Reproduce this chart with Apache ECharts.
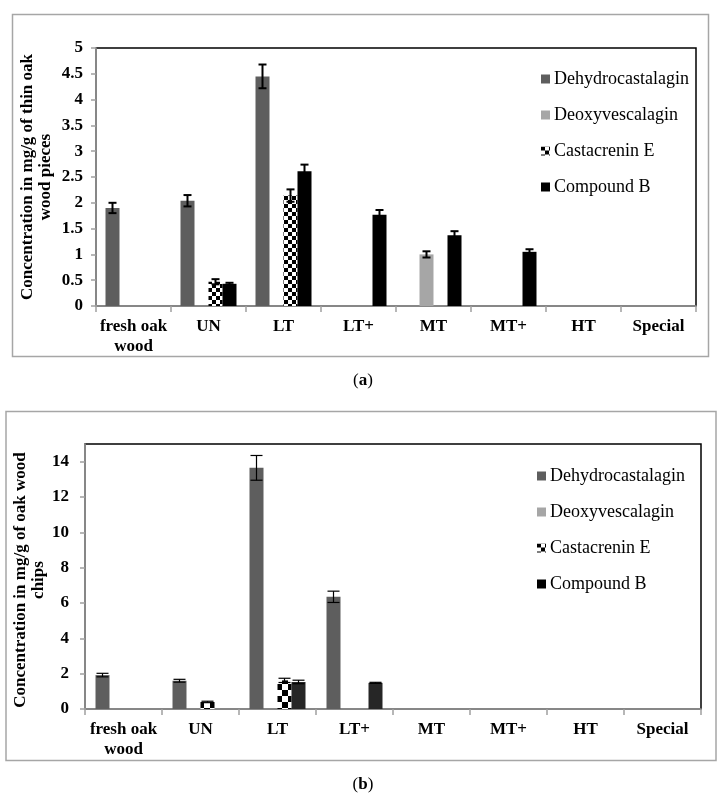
<!DOCTYPE html>
<html>
<head>
<meta charset="utf-8">
<script src="https://cdn.jsdelivr.net/npm/echarts@6/dist/echarts.min.js"></script>
<style>
html,body{margin:0;padding:0;background:#fff;}
#c{width:726px;height:800px;}
</style>
</head>
<body>
<div id="c"></div>
<script>
// ---------- data ----------
const categories = ['fresh oak wood', 'UN', 'LT', 'LT+', 'MT', 'MT+', 'HT', 'Special'];
const seriesNames = ['Dehydrocastalagin', 'Deoxyvescalagin', 'Castacrenin E', 'Compound B'];

// (a) thin oak wood pieces
const aDehydro      = [1.90, 2.04, 4.45, null, null, null, null, null];
const aDehydroErr   = [0.10, 0.11, 0.23, null, null, null, null, null];
const aDeoxy        = [null, null, null, null, 1.00, null, null, null];
const aDeoxyErr     = [null, null, null, null, 0.06, null, null, null];
const aCastacrenin    = [null, 0.47, 2.14, null, null, null, null, null];
const aCastacreninErr = [null, 0.05, 0.12, null, null, null, null, null];
const aCompoundB    = [null, 0.43, 2.61, 1.77, 1.37, 1.05, null, null];
const aCompoundBErr = [null, 0.02, 0.13, 0.09, 0.08, 0.05, null, null];
const yTicksA = [0, 0.5, 1, 1.5, 2, 2.5, 3, 3.5, 4, 4.5, 5];

// (b) oak wood chips
const bDehydro      = [1.92, 1.60, 13.65, 6.35, null, null, null, null];
const bDehydroErr   = [0.10, 0.08, 0.70, 0.32, null, null, null, null];
const bDeoxy        = [null, null, null, null, null, null, null, null];
const bDeoxyErr     = [null, null, null, null, null, null, null, null];
const bCastacrenin    = [null, 0.40, 1.62, null, null, null, null, null];
const bCastacreninErr = [null, 0.04, 0.12, null, null, null, null, null];
const bCompoundB    = [null, null, 1.53, 1.48, null, null, null, null];
const bCompoundBErr = [null, null, 0.10, 0.03, null, null, null, null];
const yTicksB = [0, 2, 4, 6, 8, 10, 12, 14];

const titleA = 'Concentration in mg/g of thin oak\nwood pieces';
const titleB = 'Concentration in mg/g of oak wood\nchips';

// ---------- styling ----------
const FONT = '"Liberation Serif", "Times New Roman", serif';
const BW = 14;

function checker(size) {
  const c = document.createElement('canvas');
  c.width = c.height = size * 2;
  const g = c.getContext('2d');
  g.fillStyle = '#fff'; g.fillRect(0, 0, size * 2, size * 2);
  g.fillStyle = '#000';
  g.fillRect(0, 0, size, size);
  g.fillRect(size, size, size, size);
  return { image: c, repeat: 'repeat' };
}

const colorsA = ['#5e5e5e', '#a6a6a6', checker(4), '#000000'];
const colorsB = ['#5e5e5e', '#a6a6a6', checker(6), '#262626'];

function errSeries(vals, errs, idx, gridIdx, lw, cap) {
  const data = [];
  vals.forEach((v, i) => { if (v != null && errs[i] != null) data.push([i, v, errs[i]]); });
  return {
    type: 'custom', name: 'err' + gridIdx + '_' + idx,
    xAxisIndex: gridIdx, yAxisIndex: gridIdx, z: 5, silent: true,
    data: data,
    encode: { x: 0, y: 1 },
    renderItem: function (params, api) {
      const x = api.value(0), v = api.value(1), e = api.value(2);
      const c = api.coord([x, v]);
      const cx = c[0] + (idx - 1.5) * BW;
      const yh = api.coord([x, v + e])[1];
      const yl = api.coord([x, v - e])[1];
      const st = { stroke: '#000', lineWidth: lw };
      return {
        type: 'group', children: [
          { type: 'line', shape: { x1: cx, y1: yh, x2: cx, y2: yl }, style: st },
          { type: 'line', shape: { x1: cx - cap / 2, y1: yh, x2: cx + cap / 2, y2: yh }, style: st },
          { type: 'line', shape: { x1: cx - cap / 2, y1: yl, x2: cx + cap / 2, y2: yl }, style: st }
        ]
      };
    }
  };
}

function barSeries(vals, idx, gridIdx, colors) {
  return {
    type: 'bar', name: seriesNames[idx],
    xAxisIndex: gridIdx, yAxisIndex: gridIdx,
    data: vals, barWidth: BW, barGap: '0%',
    itemStyle: { color: colors[idx] },
    emphasis: { disabled: true }
  };
}

const axisGray = '#a0a0a0';
function xAxisCfg(gridIdx) {
  return {
    type: 'category', gridIndex: gridIdx, data: categories,
    axisLine: { lineStyle: { color: axisGray, width: 1.5 } },
    axisTick: { show: true, length: 6, interval: 0, lineStyle: { color: axisGray, width: 1.5 } },
    axisLabel: {
      interval: 0, margin: 11, color: '#000', fontFamily: FONT, fontWeight: 'bold',
      fontSize: 17, lineHeight: 20,
      formatter: v => v.replace('oak ', 'oak\n')
    },
    splitLine: { show: false }
  };
}
function yAxisCfg(gridIdx, max, ticks, margin) {
  return {
    type: 'value', gridIndex: gridIdx, min: 0, max: max,
    axisLine: { show: true, lineStyle: { color: axisGray, width: 1.5 } },
    axisTick: { show: true, length: 5, customValues: ticks, lineStyle: { color: axisGray, width: 1.5 } },
    axisLabel: {
      customValues: ticks, margin: margin, color: '#000', fontFamily: FONT,
      fontWeight: 'bold', fontSize: 17
    },
    splitLine: { show: false }
  };
}

const series = [];
[aDehydro, aDeoxy, aCastacrenin, aCompoundB].forEach((v, i) => series.push(barSeries(v, i, 0, colorsA)));
[bDehydro, bDeoxy, bCastacrenin, bCompoundB].forEach((v, i) => series.push(barSeries(v, i, 1, colorsB)));
[[aDehydro, aDehydroErr], [aDeoxy, aDeoxyErr], [aCastacrenin, aCastacreninErr], [aCompoundB, aCompoundBErr]]
  .forEach((p, i) => series.push(errSeries(p[0], p[1], i, 0, 2, 8)));
[[bDehydro, bDehydroErr], [bDeoxy, bDeoxyErr], [bCastacrenin, bCastacreninErr], [bCompoundB, bCompoundBErr]]
  .forEach((p, i) => series.push(errSeries(p[0], p[1], i, 1, 1.2, 12)));

function legendCfg(top, left) {
  return {
    data: seriesNames, orient: 'vertical', top: top, left: left,
    icon: 'rect', itemWidth: 9, itemHeight: 9, itemGap: 18,
    selectedMode: false,
    textStyle: { fontFamily: FONT, fontSize: 18, color: '#000', lineHeight: 18, padding: [0, 0, 0, -1] }
  };
}

const chart = echarts.init(document.getElementById('c'), null, { renderer: 'canvas' });
chart.setOption({
  animation: false,
  backgroundColor: '#fff',
  grid: [
    { left: 96, top: 48, width: 600, height: 258, show: true, borderColor: '#000', borderWidth: 1.5, backgroundColor: 'transparent' },
    { left: 85, top: 444, width: 616, height: 265, show: true, borderColor: '#000', borderWidth: 1.5, backgroundColor: 'transparent' }
  ],
  legend: [legendCfg(65, 536), legendCfg(462, 532)],
  xAxis: [xAxisCfg(0), xAxisCfg(1)],
  yAxis: [yAxisCfg(0, 5, yTicksA, 13), yAxisCfg(1, 15, yTicksB, 16)],
  series: series,
  graphic: [
    { type: 'rect', shape: { x: 12.5, y: 14.5, width: 696, height: 342 }, style: { fill: 'none', stroke: '#a6a6a6', lineWidth: 1.5 }, z: -1 },
    { type: 'rect', shape: { x: 6, y: 411.5, width: 710, height: 349 }, style: { fill: 'none', stroke: '#a6a6a6', lineWidth: 1.5 }, z: -1 },
    { type: 'text', x: 37, y: 177, rotation: Math.PI / 2,
      style: { text: titleA, align: 'center', verticalAlign: 'middle', fontFamily: FONT, fontWeight: 'bold', fontSize: 17, lineHeight: 18, fill: '#000' } },
    { type: 'text', x: 30, y: 580, rotation: Math.PI / 2,
      style: { text: titleB, align: 'center', verticalAlign: 'middle', fontFamily: FONT, fontWeight: 'bold', fontSize: 17, lineHeight: 18, fill: '#000' } },
    { type: 'text', x: 363, y: 381,
      style: { text: '({b|a})', align: 'center', verticalAlign: 'middle', fontFamily: FONT, fontSize: 17, fill: '#000',
        rich: { b: { fontFamily: FONT, fontSize: 17, fontWeight: 'bold', fill: '#000' } } } },
    { type: 'text', x: 363, y: 785,
      style: { text: '({b|b})', align: 'center', verticalAlign: 'middle', fontFamily: FONT, fontSize: 17, fill: '#000',
        rich: { b: { fontFamily: FONT, fontSize: 17, fontWeight: 'bold', fill: '#000' } } } }
  ]
});
</script>
</body>
</html>
